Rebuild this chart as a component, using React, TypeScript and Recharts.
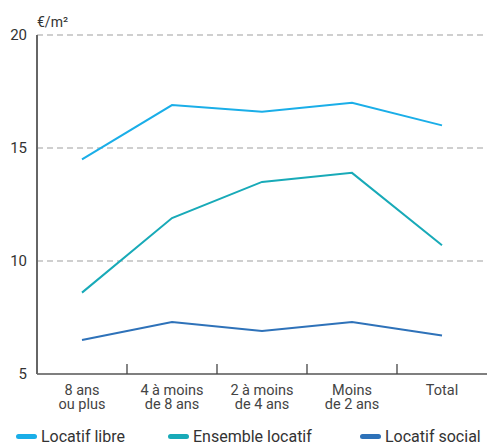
import React from "react";
import {
  LineChart,
  Line,
  XAxis,
  YAxis,
  CartesianGrid,
  Legend,
} from "recharts";

const categories = [
  ["8 ans", "ou plus"],
  ["4 à moins", "de 8 ans"],
  ["2 à moins", "de 4 ans"],
  ["Moins", "de 2 ans"],
  ["Total"],
];
const locatifLibre = [14.5, 16.9, 16.6, 17.0, 16.0];
const ensembleLocatif = [8.6, 11.9, 13.5, 13.9, 10.7];
const locatifSocial = [6.5, 7.3, 6.9, 7.3, 6.7];
const yTicks = [5, 10, 15, 20];

const SERIES = [
  { key: "libre", name: "Locatif libre", color: "#1aaee8", values: locatifLibre },
  { key: "ensemble", name: "Ensemble locatif", color: "#18aab8", values: ensembleLocatif },
  { key: "social", name: "Locatif social", color: "#2e72b9", values: locatifSocial },
];

const data = categories.map((label, i) => ({
  cat: label.join(" "),
  libre: locatifLibre[i],
  ensemble: ensembleLocatif[i],
  social: locatifSocial[i],
}));

const FONT = "Roboto, 'Liberation Sans', sans-serif";
const WIDTH = 487;
const HEIGHT = 443;
const Y_AXIS_W = 37;
const BAND = (WIDTH - Y_AXIS_W) / categories.length;
const LEGEND_LEFT = [16, 168, 360];

// category label at band centre + short tick at the band's right edge, pointing up
const XTick = (props: any) => {
  const { x, y, index } = props;
  const lines = categories[index] || [];
  return (
    <g>
      {index < categories.length - 1 && (
        <line x1={x + BAND / 2} x2={x + BAND / 2} y1={y - 10} y2={y} stroke="#444" strokeWidth={1.3} />
      )}
      <text x={x} y={y} textAnchor="middle" fill="#444" fontSize={14.5} fontFamily={FONT}>
        {lines.map((l, i) => (
          <tspan key={i} x={x} dy={i === 0 ? 21 : 14}>
            {l}
          </tspan>
        ))}
      </text>
    </g>
  );
};

const LegendContent = () => (
  <div style={{ position: "relative", width: WIDTH, height: 20, fontFamily: FONT, fontSize: 16, color: "#333" }}>
    {SERIES.map((s, i) => (
      <div key={s.key} style={{ position: "absolute", left: LEGEND_LEFT[i], top: 0, display: "flex", alignItems: "center", whiteSpace: "nowrap" }}>
        <span style={{ display: "inline-block", width: 21, height: 5, borderRadius: 3, background: s.color, marginRight: 4 }} />
        <span>{s.name}</span>
      </div>
    ))}
  </div>
);

export default function App() {
  return (
    <div style={{ position: "absolute", left: 0, top: 0, width: WIDTH, height: HEIGHT, background: "#fff", overflow: "hidden" }}>
      <LineChart width={WIDTH} height={HEIGHT} data={data} margin={{ top: 35, right: 0, left: 0, bottom: 0 }}>
        <CartesianGrid vertical={false} stroke="#a0a0a0" strokeDasharray="6 4" strokeWidth={1.2} horizontalValues={[10, 15, 20]} />
        <XAxis
          dataKey="cat"
          height={49}
          interval={0}
          padding={{ left: BAND / 2, right: BAND / 2 }}
          tickLine={false}
          tickSize={0}
          tickMargin={0}
          tick={<XTick />}
          axisLine={{ stroke: "#555", strokeWidth: 1.5 }}
        />
        <YAxis
          width={Y_AXIS_W}
          domain={[5, 20]}
          ticks={yTicks}
          tickLine={false}
          tickMargin={4}
          tick={{ fill: "#333", fontSize: 15, fontFamily: FONT }}
          axisLine={{ stroke: "#666", strokeWidth: 2 }}
        />
        <Legend
          verticalAlign="bottom"
          height={21}
          content={<LegendContent />}
          wrapperStyle={{ top: 427, left: 0, bottom: "auto", height: 20 }}
        />
        {SERIES.map((s) => (
          <Line
            key={s.key}
            type="linear"
            dataKey={s.key}
            name={s.name}
            stroke={s.color}
            strokeWidth={2}
            dot={false}
            activeDot={false}
            isAnimationActive={false}
          />
        ))}
        <text x={37} y={27} fill="#333" fontSize={14} fontFamily={FONT}>
          €/m²
        </text>
      </LineChart>
    </div>
  );
}
